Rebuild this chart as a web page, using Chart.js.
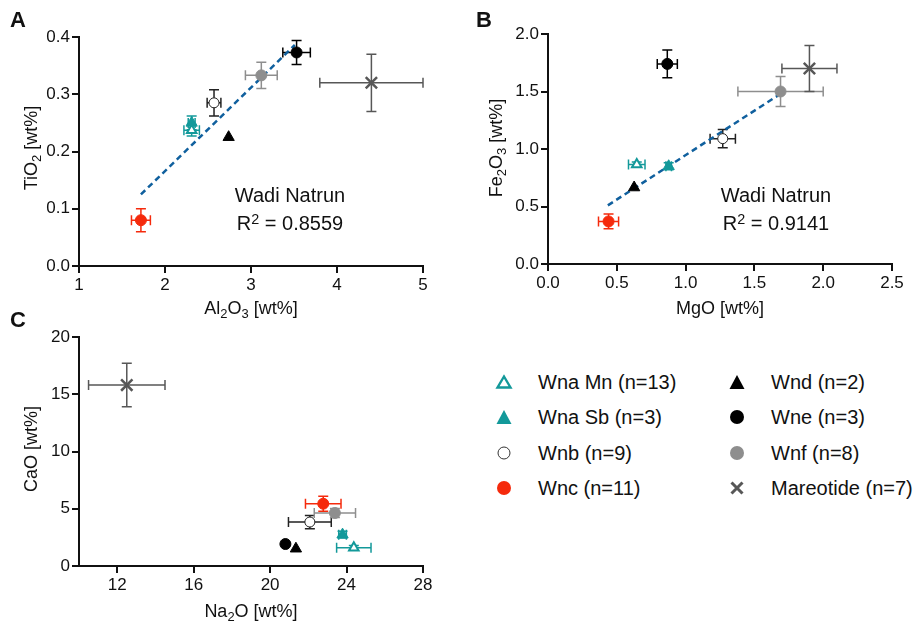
<!DOCTYPE html>
<html>
<head>
<meta charset="utf-8">
<script src="https://cdn.jsdelivr.net/npm/chart.js@4.4.1/dist/chart.umd.min.js"></script>
<style>
  body { margin: 0; background: #fff; font-family: "Liberation Sans", Arial, sans-serif; color: #111; }
  #wrap { position: relative; width: 921px; height: 627px; overflow: hidden; }
  canvas { position: absolute; }
  .t { position: absolute; transform: translate(-50%, -50%); white-space: nowrap; line-height: 1; }
  .yt { transform: translate(-50%, -50%) rotate(-90deg); }
  .lbl { font-size: 18px; }
  .ann { font-size: 20px; }
  .pl { font-size: 22px; font-weight: bold; }
  sub { font-size: 0.72em; vertical-align: -0.3em; line-height: 0; }
  sup { font-size: 0.72em; vertical-align: 0.45em; line-height: 0; }
  .lg { position: absolute; font-size: 20px; line-height: 1; transform: translateY(-50%); white-space: nowrap; }
  .mk { position: absolute; transform: translate(-50%, -50%); }
</style>
</head>
<body>
<div id="wrap">
  <canvas id="chartA" width="460" height="330" style="left:0;top:0"></canvas>
  <canvas id="chartB" width="461" height="330" style="left:460px;top:0"></canvas>
  <canvas id="chartC" width="460" height="327" style="left:0;top:300px"></canvas>

  <div class="t pl" style="left:18px;top:20px">A</div>
  <div class="t pl" style="left:484px;top:20px">B</div>
  <div class="t pl" style="left:18px;top:320px">C</div>

  <div class="t lbl" style="left:251px;top:308px">Al<sub>2</sub>O<sub>3</sub> [wt%]</div>
  <div class="t lbl yt" style="left:31px;top:148px">TiO<sub>2</sub> [wt%]</div>
  <div class="t lbl" style="left:720px;top:308px">MgO [wt%]</div>
  <div class="t lbl yt" style="left:496px;top:148px">Fe<sub>2</sub>O<sub>3</sub> [wt%]</div>
  <div class="t lbl" style="left:251px;top:611px">Na<sub>2</sub>O [wt%]</div>
  <div class="t lbl yt" style="left:31px;top:449px">CaO [wt%]</div>

  <div class="t ann" style="left:290px;top:195px">Wadi Natrun</div>
  <div class="t ann" style="left:290px;top:223px">R<sup>2</sup> = 0.8559</div>
  <div class="t ann" style="left:776px;top:195px">Wadi Natrun</div>
  <div class="t ann" style="left:776px;top:223px">R<sup>2</sup> = 0.9141</div>

  <div id="legend"></div>
</div>

<script>
// groups, in legend order
const groups = ['Wna Mn (n=13)', 'Wna Sb (n=3)', 'Wnb (n=9)', 'Wnc (n=11)',
                'Wnd (n=2)', 'Wne (n=3)', 'Wnf (n=8)', 'Mareotide (n=7)'];

// A: Al2O3 vs TiO2
const al2o3    = [2.31, 2.31, 2.57, 1.72, 2.74, 3.53, 3.12, 4.40];
const al2o3Err = [0.09, 0.04, 0.08, 0.11, 0, 0.16, 0.185, 0.60];
const tio2     = [0.237, 0.25, 0.285, 0.08, 0.225, 0.373, 0.333, 0.32];
const tio2Err  = [0.01, 0.012, 0.023, 0.02, 0, 0.021, 0.023, 0.05];
const tio2FitX = [1.72, 3.51];
const tio2FitY = [0.125, 0.386];

// B: MgO vs Fe2O3
const mgo       = [0.645, 0.877, 1.27, 0.44, 0.626, 0.867, 1.69, 1.90];
const mgoErr    = [0.06, 0.02, 0.092, 0.073, 0, 0.073, 0.31, 0.20];
const fe2o3     = [0.866, 0.85, 1.09, 0.37, 0.665, 1.74, 1.50, 1.70];
const fe2o3Err  = [0.02, 0.03, 0.08, 0.064, 0, 0.12, 0.13, 0.20];
const fe2o3FitX = [0.435, 1.69];
const fe2o3FitY = [0.51, 1.48];

// C: Na2O vs CaO
const na2o    = [24.38, 23.79, 22.08, 22.78, 21.35, 20.8, 23.39, 12.5];
const na2oErr = [0.9, 0.2, 1.12, 0.93, 0, 0, 1.08, 2.0];
const cao     = [1.6, 2.74, 3.84, 5.44, 1.51, 1.92, 4.63, 15.8];
const caoErr  = [0.2, 0.3, 0.58, 0.65, 0, 0, 0.4, 1.9];

// tick labels
const alTicks = [1, 2, 3, 4, 5];
const tiTicks = [0, 0.1, 0.2, 0.3, 0.4];
const mgTicks = [0, 0.5, 1, 1.5, 2, 2.5];
const feTicks = [0, 0.5, 1, 1.5, 2];
const naTicks = [12, 16, 20, 24, 28];
const caTicks = [0, 5, 10, 15, 20];

// colours / markers
const teal = '#13999a', red = '#f52a0c', grey = '#8e8e8e', dark = '#575757';
const fontFamily = '"Liberation Sans", Arial, sans-serif';
const marks = [
  { style: 'triangle', r: 5.5, bg: '#fff', fg: teal, bw: 2, bar: teal },
  { style: 'triangle', r: 6.5, bg: teal, fg: teal, bw: 1, bar: teal },
  { style: 'circle', r: 5, bg: '#fff', fg: '#222', bw: 1, bar: '#222' },
  { style: 'circle', r: 5.5, bg: red, fg: red, bw: 1, bar: red },
  { style: 'triangle', r: 6.5, bg: '#000', fg: '#000', bw: 1, bar: '#000' },
  { style: 'circle', r: 5.5, bg: '#000', fg: '#000', bw: 1, bar: '#000' },
  { style: 'circle', r: 5.5, bg: grey, fg: grey, bw: 1, bar: grey },
  { style: 'crossRot', r: 8, bg: dark, fg: dark, bw: 2.5, bar: dark }
];

// error bars drawn under the markers, through the chart scales
function errorBars(xs, ys, xErr, yErr) {
  return {
    id: 'errorBars',
    beforeDatasetsDraw(chart) {
      const { ctx, scales: { x, y } } = chart;
      const cap = 5;
      ctx.save();
      ctx.lineWidth = 1.5;
      xs.forEach((v, i) => {
        const px = x.getPixelForValue(v), py = y.getPixelForValue(ys[i]);
        ctx.strokeStyle = marks[i].bar;
        ctx.beginPath();
        if (xErr[i]) {
          const l = x.getPixelForValue(v - xErr[i]), r = x.getPixelForValue(v + xErr[i]);
          ctx.moveTo(l, py); ctx.lineTo(r, py);
          ctx.moveTo(l, py - cap); ctx.lineTo(l, py + cap);
          ctx.moveTo(r, py - cap); ctx.lineTo(r, py + cap);
        }
        if (yErr[i]) {
          const t = y.getPixelForValue(ys[i] + yErr[i]), b = y.getPixelForValue(ys[i] - yErr[i]);
          ctx.moveTo(px, t); ctx.lineTo(px, b);
          ctx.moveTo(px - cap, t); ctx.lineTo(px + cap, t);
          ctx.moveTo(px - cap, b); ctx.lineTo(px + cap, b);
        }
        ctx.stroke();
      });
      ctx.restore();
    }
  };
}

function axis(ticks, min, max, fmt, size, isX) {
  return {
    type: 'linear',
    min: min,
    max: max,
    afterBuildTicks: s => { s.ticks = ticks.map(v => ({ value: v })); },
    afterFit: s => { if (isX) s.height = size; else s.width = size; },
    ticks: { font: { size: 17, family: fontFamily }, color: '#111', padding: 2, callback: fmt },
    grid: { drawOnChartArea: false, tickLength: 7, lineWidth: 2, color: '#111' },
    border: { color: '#111', width: 2 }
  };
}

function makePanel(id, xs, ys, xErr, yErr, fitX, fitY, xAxis, yAxis, padding) {
  const datasets = groups.map((g, i) => ({
    label: g,
    data: [{ x: xs[i], y: ys[i] }],
    pointStyle: marks[i].style,
    pointRadius: marks[i].r,
    pointBackgroundColor: marks[i].bg,
    pointBorderColor: marks[i].fg,
    pointBorderWidth: marks[i].bw
  }));
  if (fitX) {
    datasets.push({
      type: 'line',
      label: 'fit',
      data: fitX.map((v, i) => ({ x: v, y: fitY[i] })),
      borderColor: '#10609e',
      borderWidth: 2.5,
      borderDash: [6, 4],
      pointRadius: 0,
      fill: false,
      order: 10
    });
  }
  new Chart(document.getElementById(id), {
    type: 'scatter',
    data: { datasets: datasets },
    options: {
      responsive: false,
      animation: false,
      layout: { padding: padding },
      plugins: { legend: { display: false }, tooltip: { enabled: false } },
      scales: { x: xAxis, y: yAxis }
    },
    plugins: [errorBars(xs, ys, xErr, yErr)]
  });
}

const one = v => v.toFixed(1);
const int = v => String(v);

makePanel('chartA', al2o3, tio2, al2o3Err, tio2Err, tio2FitX, tio2FitY,
  axis(alTicks, 1, 5, int, 64, true), axis(tiTicks, 0, 0.4, one, 79, false),
  { top: 37, right: 37, left: 0, bottom: 0 });

makePanel('chartB', mgo, fe2o3, mgoErr, fe2o3Err, fe2o3FitX, fe2o3FitY,
  axis(mgTicks, 0, 2.5, one, 66, true), axis(feTicks, 0, 2, one, 88, false),
  { top: 34, right: 29, left: 0, bottom: 0 });

makePanel('chartC', na2o, cao, na2oErr, caoErr, null, null,
  axis(naTicks, 10, 28, int, 61, true), axis(caTicks, 0, 20, int, 79, false),
  { top: 37, right: 37, left: 0, bottom: 0 });

// legend: two columns of four rows
const legendSvg = [
  '<svg width="18" height="16"><polygon points="9,2.5 15.5,13.5 2.5,13.5" fill="#fff" stroke="' + teal + '" stroke-width="2.4"/></svg>',
  '<svg width="18" height="16"><polygon points="9,1 16.5,15 1.5,15" fill="' + teal + '"/></svg>',
  '<svg width="16" height="16"><circle cx="8" cy="8" r="6" fill="#fff" stroke="#333" stroke-width="1"/></svg>',
  '<svg width="16" height="16"><circle cx="8" cy="8" r="7" fill="' + red + '"/></svg>',
  '<svg width="18" height="16"><polygon points="9,1 16.5,15 1.5,15" fill="#000"/></svg>',
  '<svg width="16" height="16"><circle cx="8" cy="8" r="7" fill="#000"/></svg>',
  '<svg width="16" height="16"><circle cx="8" cy="8" r="7" fill="' + grey + '"/></svg>',
  '<svg width="16" height="16"><path d="M2.5,2.5 L13.5,13.5 M13.5,2.5 L2.5,13.5" stroke="' + dark + '" stroke-width="3"/></svg>'
];
const rowY = [382, 417, 453, 488];
const colMark = [504, 737];
const colText = [538, 771];
let html = '';
groups.forEach((g, i) => {
  const c = Math.floor(i / 4), r = i % 4;
  html += '<div class="mk" style="left:' + colMark[c] + 'px;top:' + rowY[r] + 'px;line-height:0">' + legendSvg[i] + '</div>';
  html += '<div class="lg" style="left:' + colText[c] + 'px;top:' + rowY[r] + 'px">' + g + '</div>';
});
document.getElementById('legend').innerHTML = html;
</script>
</body>
</html>
